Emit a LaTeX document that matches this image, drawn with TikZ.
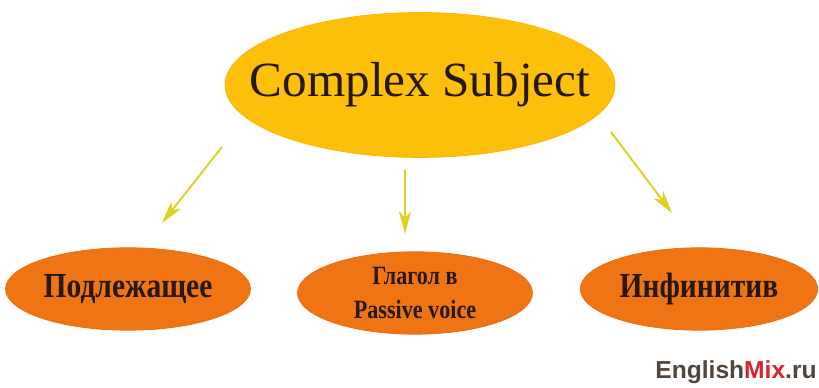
\documentclass[tikz,border=0pt]{standalone}
\usepackage{fontspec}
\setmainfont{Liberation Serif}
\newfontfamily\narrowfont[FakeStretch=0.84]{Liberation Serif}
\newfontfamily\markfont{Liberation Sans}
\usetikzlibrary{positioning,arrows.meta,shapes.geometric}

\definecolor{topyellow}{HTML}{FDC00A}
\definecolor{leaforange}{HTML}{EF7414}
\definecolor{arrowyellow}{HTML}{DCD224}
\definecolor{inkbrown}{HTML}{26180C}
\definecolor{mixred}{HTML}{D8242C}

\begin{document}
\begin{tikzpicture}[x=0.02cm, y=0.02cm,
  main bubble/.style = {
    shape=ellipse, fill=topyellow, draw=topyellow!85!orange,
    inner xsep=-0.72cm, inner ysep=0pt,
    minimum width=7.8cm, minimum height=2.9cm,
    text=inkbrown, font=\fontsize{28}{32}\selectfont,
  },
  leaf bubble/.style = {
    shape=ellipse, fill=leaforange, draw=leaforange!90!red,
    inner xsep=-0.4cm, inner ysep=0pt,
    minimum width=4.8cm, minimum height=1.65cm,
    text=inkbrown, align=center,
    font=\narrowfont\bfseries\fontsize{20}{22}\selectfont,
  },
  link arrow/.style = {
    draw=arrowyellow, line width=1.1pt,
    -{Stealth[length=4.5mm, width=2.4mm, inset=1.2mm]},
  }]
  \useasboundingbox (0,0) rectangle (819,388);

  % the subject and its three parts
  \node[name=subject, main bubble] at (420,303) {Complex Subject};
  \node[name=noun, leaf bubble, minimum width=4.9cm]
    at (128,99) {Подлежащее};
  \node[name=verb, leaf bubble, minimum width=4.7cm,
    font=\narrowfont\bfseries\fontsize{15}{19}\selectfont]
    at (415,95) {Глагол в\\Passive voice};
  \node[name=infin, leaf bubble, minimum width=4.75cm]
    at (699,99) {Инфинитив};

  % free arrows
  \coordinate (noun tail) at (222,241);
  \coordinate (noun tip)  at (162,165);
  \coordinate (verb tail) at (405,218);
  \coordinate (verb tip)  at (405,154);
  \coordinate (infin tail) at (611,256);
  \coordinate (infin tip)  at (672,175);
  \foreach \part in {noun, verb, infin}
    \draw[link arrow] (\part\space tail) -- (\part\space tip);

  \node[name=mark, anchor=east, inner sep=0pt,
    font=\markfont\bfseries\fontsize{14}{16}\selectfont]
    at (817,16) {\textcolor{inkbrown!80}{English}\textcolor{mixred}{Mix}\textcolor{inkbrown!80}{.ru}};
\end{tikzpicture}
\end{document}
